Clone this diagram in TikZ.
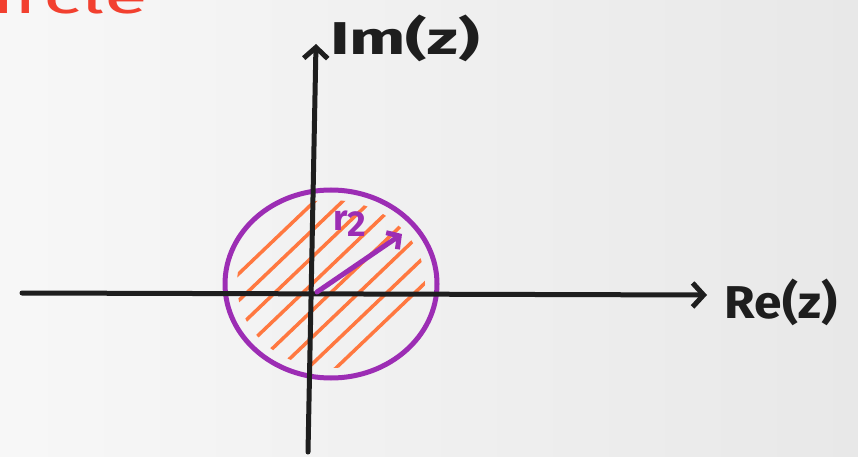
\documentclass[tikz,border=0pt]{standalone}
\usepackage{fontspec}
\setmainfont{Fira Sans}
\usetikzlibrary{arrows.meta}
\definecolor{ink}{HTML}{1E1E1E}
\definecolor{purp}{HTML}{9C2DB4}
\definecolor{hatchc}{HTML}{FF7840}
\definecolor{redtxt}{HTML}{F2402F}
\begin{document}
\begin{tikzpicture}[x=1pt,y=-1pt,
  axis/.style={ink,line width=5pt,line cap=round,line join=round},
  tip/.style={-{Straight Barb[length=11pt,width=24pt]}},
  hatchline/.style={hatchc,line width=3.5pt,line cap=round},
  lbl/.style={ink,font=\fontsize{46}{46}\selectfont\bfseries,inner sep=0pt}]
\shade[left color=black!3,right color=black!9] (0,0) rectangle (858,457);
\useasboundingbox (0,0) rectangle (858,457);
% red title, cut off at the top
\node[redtxt,font=\fontsize{50}{50}\selectfont,anchor=base west,inner sep=0pt,xscale=1.6] (title) at (-8,14) {ircle};
% coordinates
\coordinate (ybot) at (308,452);
\coordinate (ytop) at (316,44);
\coordinate (xleft) at (22,293);
\coordinate (xright) at (707,295);
\coordinate (o) at (317,292);
\coordinate (rtip) at (402,234);
% hatching
\begin{scope}
\clip (331,284) ellipse [x radius=94, y radius=84];
\foreach \x in {228,256,284,312,340,368,396,424}
  \draw[hatchline] (\x-110,284+105) -- (\x+110,284-105);
\end{scope}
% circle
\draw[purp,line width=5pt] (331,284) ellipse [x radius=106, y radius=94];
% axes
\draw[axis,tip] (xleft) -- (xright);
\draw[axis,tip] (ybot) -- (ytop);
% radius arrow
\draw[purp,line width=5pt,line cap=round,-{Straight Barb[length=9pt,width=20pt]}] (o) -- (rtip);
\node[purp,font=\fontsize{36}{36}\selectfont\bfseries,inner sep=0pt] (rlab) at (350,224) {r\raisebox{-6pt}{2}};
% labels
\node[lbl,xscale=1.45] (im) at (405,38) {Im(z)};
\node[lbl,xscale=1.08] (re) at (781,302) {Re(z)};
\end{tikzpicture}
\end{document}
